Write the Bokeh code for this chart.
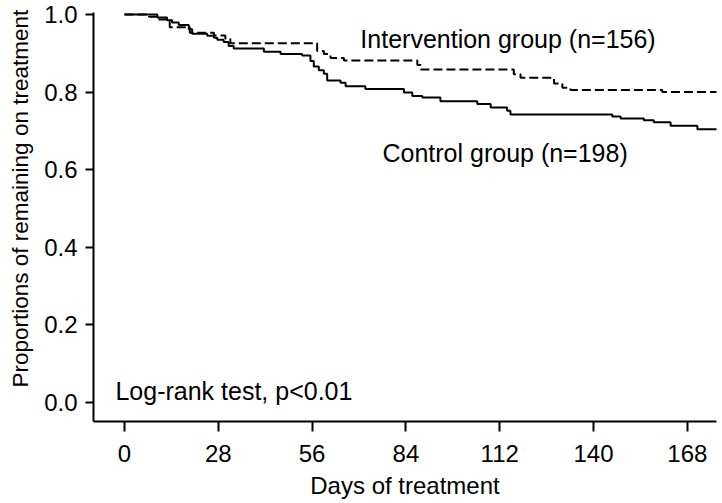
from bokeh.plotting import figure
from bokeh.models import Range1d, FixedTicker, Label, NumeralTickFormatter, Title
from bokeh.embed import file_html
from bokeh.resources import INLINE

# Control group (n=198) Kaplan-Meier steps
ctrl_days = [0, 9.8, 12.7, 14.2, 16.2, 19.2, 20.2, 24.7, 26.7, 27.7, 29.6, 31.1, 32.6,
             41.6, 46.6, 53.0, 55.5, 56.5, 58.0, 59.5, 60.5, 64.5, 66.0, 71.9, 83.4,
             85.9, 88.9, 94.3, 105.3, 109.3, 114.2, 115.2, 145.6, 148.1, 155.0, 158.0,
             163.0, 171.0, 176.9]
ctrl_surv = [1.0, 0.992, 0.985, 0.979, 0.973, 0.962, 0.950, 0.945, 0.940, 0.935, 0.929,
             0.919, 0.912, 0.904, 0.898, 0.894, 0.880, 0.866, 0.856, 0.847, 0.830, 0.824,
             0.815, 0.808, 0.799, 0.790, 0.786, 0.776, 0.769, 0.760, 0.752, 0.742, 0.737,
             0.732, 0.727, 0.722, 0.713, 0.704, 0.704]

# Intervention group (n=156)
intv_days = [0, 7.3, 10.0, 13.5, 19.5, 26.7, 30.1, 31.6, 57.5, 59.5, 61.5, 65.5, 87.4,
             88.4, 116.2, 118.2, 128.2, 130.7, 133.1, 160.5, 176.9]
intv_surv = [1.0, 0.994, 0.987, 0.967, 0.953, 0.946, 0.938, 0.926, 0.906, 0.898, 0.888,
             0.881, 0.870, 0.858, 0.846, 0.837, 0.822, 0.811, 0.805, 0.800, 0.800]

x_ticks = [0, 28, 56, 84, 112, 140, 168]
y_ticks = [0.0, 0.2, 0.4, 0.6, 0.8, 1.0]

FONT = "Liberation Sans"

p = figure(frame_width=623, frame_height=409, output_backend="svg", toolbar_location=None,
           x_range=Range1d(-9.25, 176.7), y_range=Range1d(-0.0498, 1.0051),
           min_border_left=93, min_border_right=4, min_border_top=12, min_border_bottom=82)
p.outline_line_color = None
p.xgrid.visible = False
p.ygrid.visible = False
p.background_fill_color = "white"
p.border_fill_color = "white"

p.step(ctrl_days, ctrl_surv, mode="after", line_color="black", line_width=2)
p.step(intv_days, intv_surv, mode="after", line_color="black", line_width=2,
       line_dash="9 4")

for ax in (p.xaxis[0], p.yaxis[0]):
    ax.axis_line_color = "black"
    ax.axis_line_width = 2
    ax.major_tick_line_color = "black"
    ax.major_tick_line_width = 2
    ax.minor_tick_line_color = None
    ax.major_tick_in = 0
    ax.major_label_text_font = FONT
    ax.major_label_text_font_size = "24px"
    ax.major_label_text_color = "black"
    ax.axis_label_text_font = FONT
    ax.axis_label_text_font_style = "normal"
    ax.axis_label_text_color = "black"

p.xaxis.ticker = FixedTicker(ticks=x_ticks)
p.xaxis.major_tick_out = 10
p.xaxis.major_label_standoff = 13
p.xaxis.axis_label = "Days of treatment"
p.xaxis.axis_label_text_font_size = "24px"
p.xaxis.axis_label_standoff = 7

p.yaxis.ticker = FixedTicker(ticks=y_ticks)
p.yaxis.formatter = NumeralTickFormatter(format="0.0")
p.yaxis.major_tick_out = 8
p.yaxis.major_label_standoff = 8

p.add_layout(Title(text="Proportions of remaining on treatment", align="left", offset=34,
                   vertical_align="top", standoff=14, text_font=FONT,
                   text_font_size="22.5px", text_font_style="normal", text_color="black"),
             "left")

p.add_layout(Label(x=70.4, y=0.938, text="Intervention group (n=156)",
                   text_font=FONT, text_font_size="25px", text_color="black",
                   text_baseline="alphabetic"))
p.add_layout(Label(x=77.0, y=0.6422, text="Control group (n=198)",
                   text_font=FONT, text_font_size="25px", text_color="black",
                   text_baseline="alphabetic"))
p.add_layout(Label(x=-2.7, y=0.0276, text="Log-rank test, p<0.01",
                   text_font=FONT, text_font_size="25px", text_color="black",
                   text_baseline="alphabetic"))

open("out.html", "w").write(file_html(p, INLINE))
